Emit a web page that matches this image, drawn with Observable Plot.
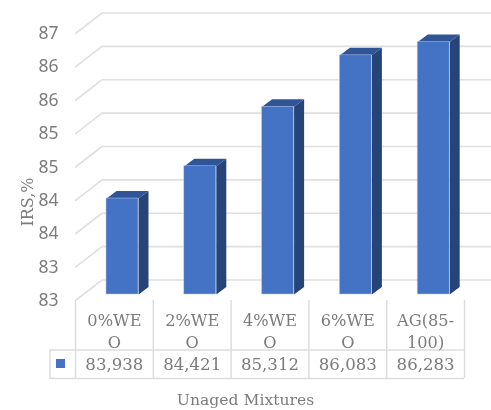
<!DOCTYPE html>
<html>
<head>
<meta charset="utf-8">
<script src="https://cdn.jsdelivr.net/npm/d3@7"></script>
<script src="https://cdn.jsdelivr.net/npm/@observablehq/plot@0.6"></script>
<style>
html,body{margin:0;padding:0;background:#fff;}
svg{display:block;filter:blur(0.4px);}
</style>
</head>
<body>
<div id="chart"></div>
<script>
const categories = ["0%WE\nO", "2%WE\nO", "4%WE\nO", "6%WE\nO", "AG(85-\n100)"];
const values = [83.938, 84.421, 85.312, 86.083, 86.283];
const valueLabels = ["83,938", "84,421", "85,312", "86,083", "86,283"];
const yTicks = [82.5, 83, 83.5, 84, 84.5, 85, 85.5, 86, 86.5];
const yTickLabels = ["83", "83", "84", "84", "85", "85", "86", "86", "87"];
const yTitle = "IRS,%";
const xTitle = "Unaged Mixtures";

const W = 491, H = 410;
const mL = 75, mR = 27, mT = 33, mB = 110;
const unitX = (W - mL - mR) / 5;
const unitY = (H - mT - mB) / 4;
const floor = 82.5;
const dx = px => px / unitX;            // horizontal pixels in x units
const dy = px => px / unitY;            // vertical pixels in y units
const below = px => floor - dy(px);     // pixels below the chart floor

const serif = "DejaVu Serif";
const ink = "#7c7c7c";
const gridC = "#e0e0e0";
const tableC = "#dcdcdc";

// 3-D geometry of the Excel-style box
const wallX = dx(26.5), wallY = dy(20.5);
const barL = dx(31), barW = dx(32), depX = dx(10), depY = dy(7.5), barLift = dy(6);
const barFloor = floor + barLift;

const rows = categories.map((c, i) => ({i, c, v: values[i] + barLift, label: valueLabels[i]}));
const poly = f => rows.flatMap(r => f(r).map(([x, y]) => ({x, y, k: r.i})));

const front = rows.map(r => ({x1: r.i + barL, x2: r.i + barL + barW, y1: barFloor, y2: r.v}));
const side = poly(r => {
  const x = r.i + barL + barW;
  return [[x, barFloor], [x + depX, barFloor + depY], [x + depX, r.v + depY], [x, r.v]];
});
const top_ = poly(r => {
  const x = r.i + barL;
  return [[x, r.v], [x + barW, r.v], [x + barW + depX, r.v + depY], [x + depX, r.v + depY]];
});

const wall = yTicks.flatMap((t, k) => [
  {x: 0, y: t, k},
  {x: wallX, y: t + wallY, k},
  {x: (W - mL) / unitX, y: t + wallY, k}
]);

const colEdges = [0, 1, 2, 3, 4, 5];
const rowTop = below(0), rowMid = below(49.5), rowBot = below(78);
const keyLeft = dx(-19), keyRight = dx(-10);

const plot = Plot.plot({
  width: W, height: H,
  marginLeft: mL, marginRight: mR, marginTop: mT, marginBottom: mB,
  style: {background: "#fff", overflow: "visible"},
  x: {domain: [0, 5], axis: null},
  y: {domain: [floor, 86.5], axis: null},
  marks: [
    Plot.line(wall, {x: "x", y: "y", z: "k", stroke: gridC, strokeWidth: 1.6, curve: "linear"}),
    Plot.axisY({
      anchor: "left", ticks: yTicks, tickSize: 0, tickPadding: 17, label: null,
      tickFormat: d => yTickLabels[yTicks.indexOf(d)],
      fontFamily: "Noto Sans", fontSize: 17.5, fill: ink
    }),
    Plot.line(side, {x: "x", y: "y", z: "k", fill: "#264478", stroke: "none", curve: "linear-closed"}),
    Plot.line(top_, {x: "x", y: "y", z: "k", fill: "#2f5597", stroke: "none", curve: "linear-closed"}),
    Plot.rect(front, {x1: "x1", x2: "x2", y1: "y1", y2: "y2", fill: "#4472c4", stroke: "#b9c9e6", strokeWidth: 0.5}),
    // table
    Plot.ruleX(colEdges, {y1: rowTop, y2: rowBot, stroke: tableC, strokeWidth: 1.4}),
    Plot.ruleX([dx(-25.5)], {y1: rowMid, y2: rowBot, stroke: tableC, strokeWidth: 1.4}),
    Plot.ruleY([rowMid, rowBot], {x1: dx(-25.5), x2: 5, stroke: tableC, strokeWidth: 1.4}),
    Plot.rect([0], {x1: keyLeft, x2: keyRight, y1: below(59), y2: below(68), fill: "#4472c4"}),
    Plot.text(rows, {x: d => d.i + 0.5, y: below(29), text: "c", fontFamily: serif, fontSize: 16.2, lineHeight: 1.36, fill: ink}),
    Plot.text(rows, {x: d => d.i + 0.5, y: below(64), text: "label", fontFamily: serif, fontSize: 16.6, fill: ink}),
    // titles
    Plot.text([xTitle], {x: dx(170), y: below(99), text: d => d, fontFamily: serif, fontSize: 15.6, fill: ink}),
    Plot.text([yTitle], {x: dx(-47.5), y: floor + dy(98.5), text: d => d, rotate: -90, fontFamily: serif, fontSize: 16, fill: ink})
  ]
});
document.getElementById("chart").appendChild(plot);
</script>
</body>
</html>
